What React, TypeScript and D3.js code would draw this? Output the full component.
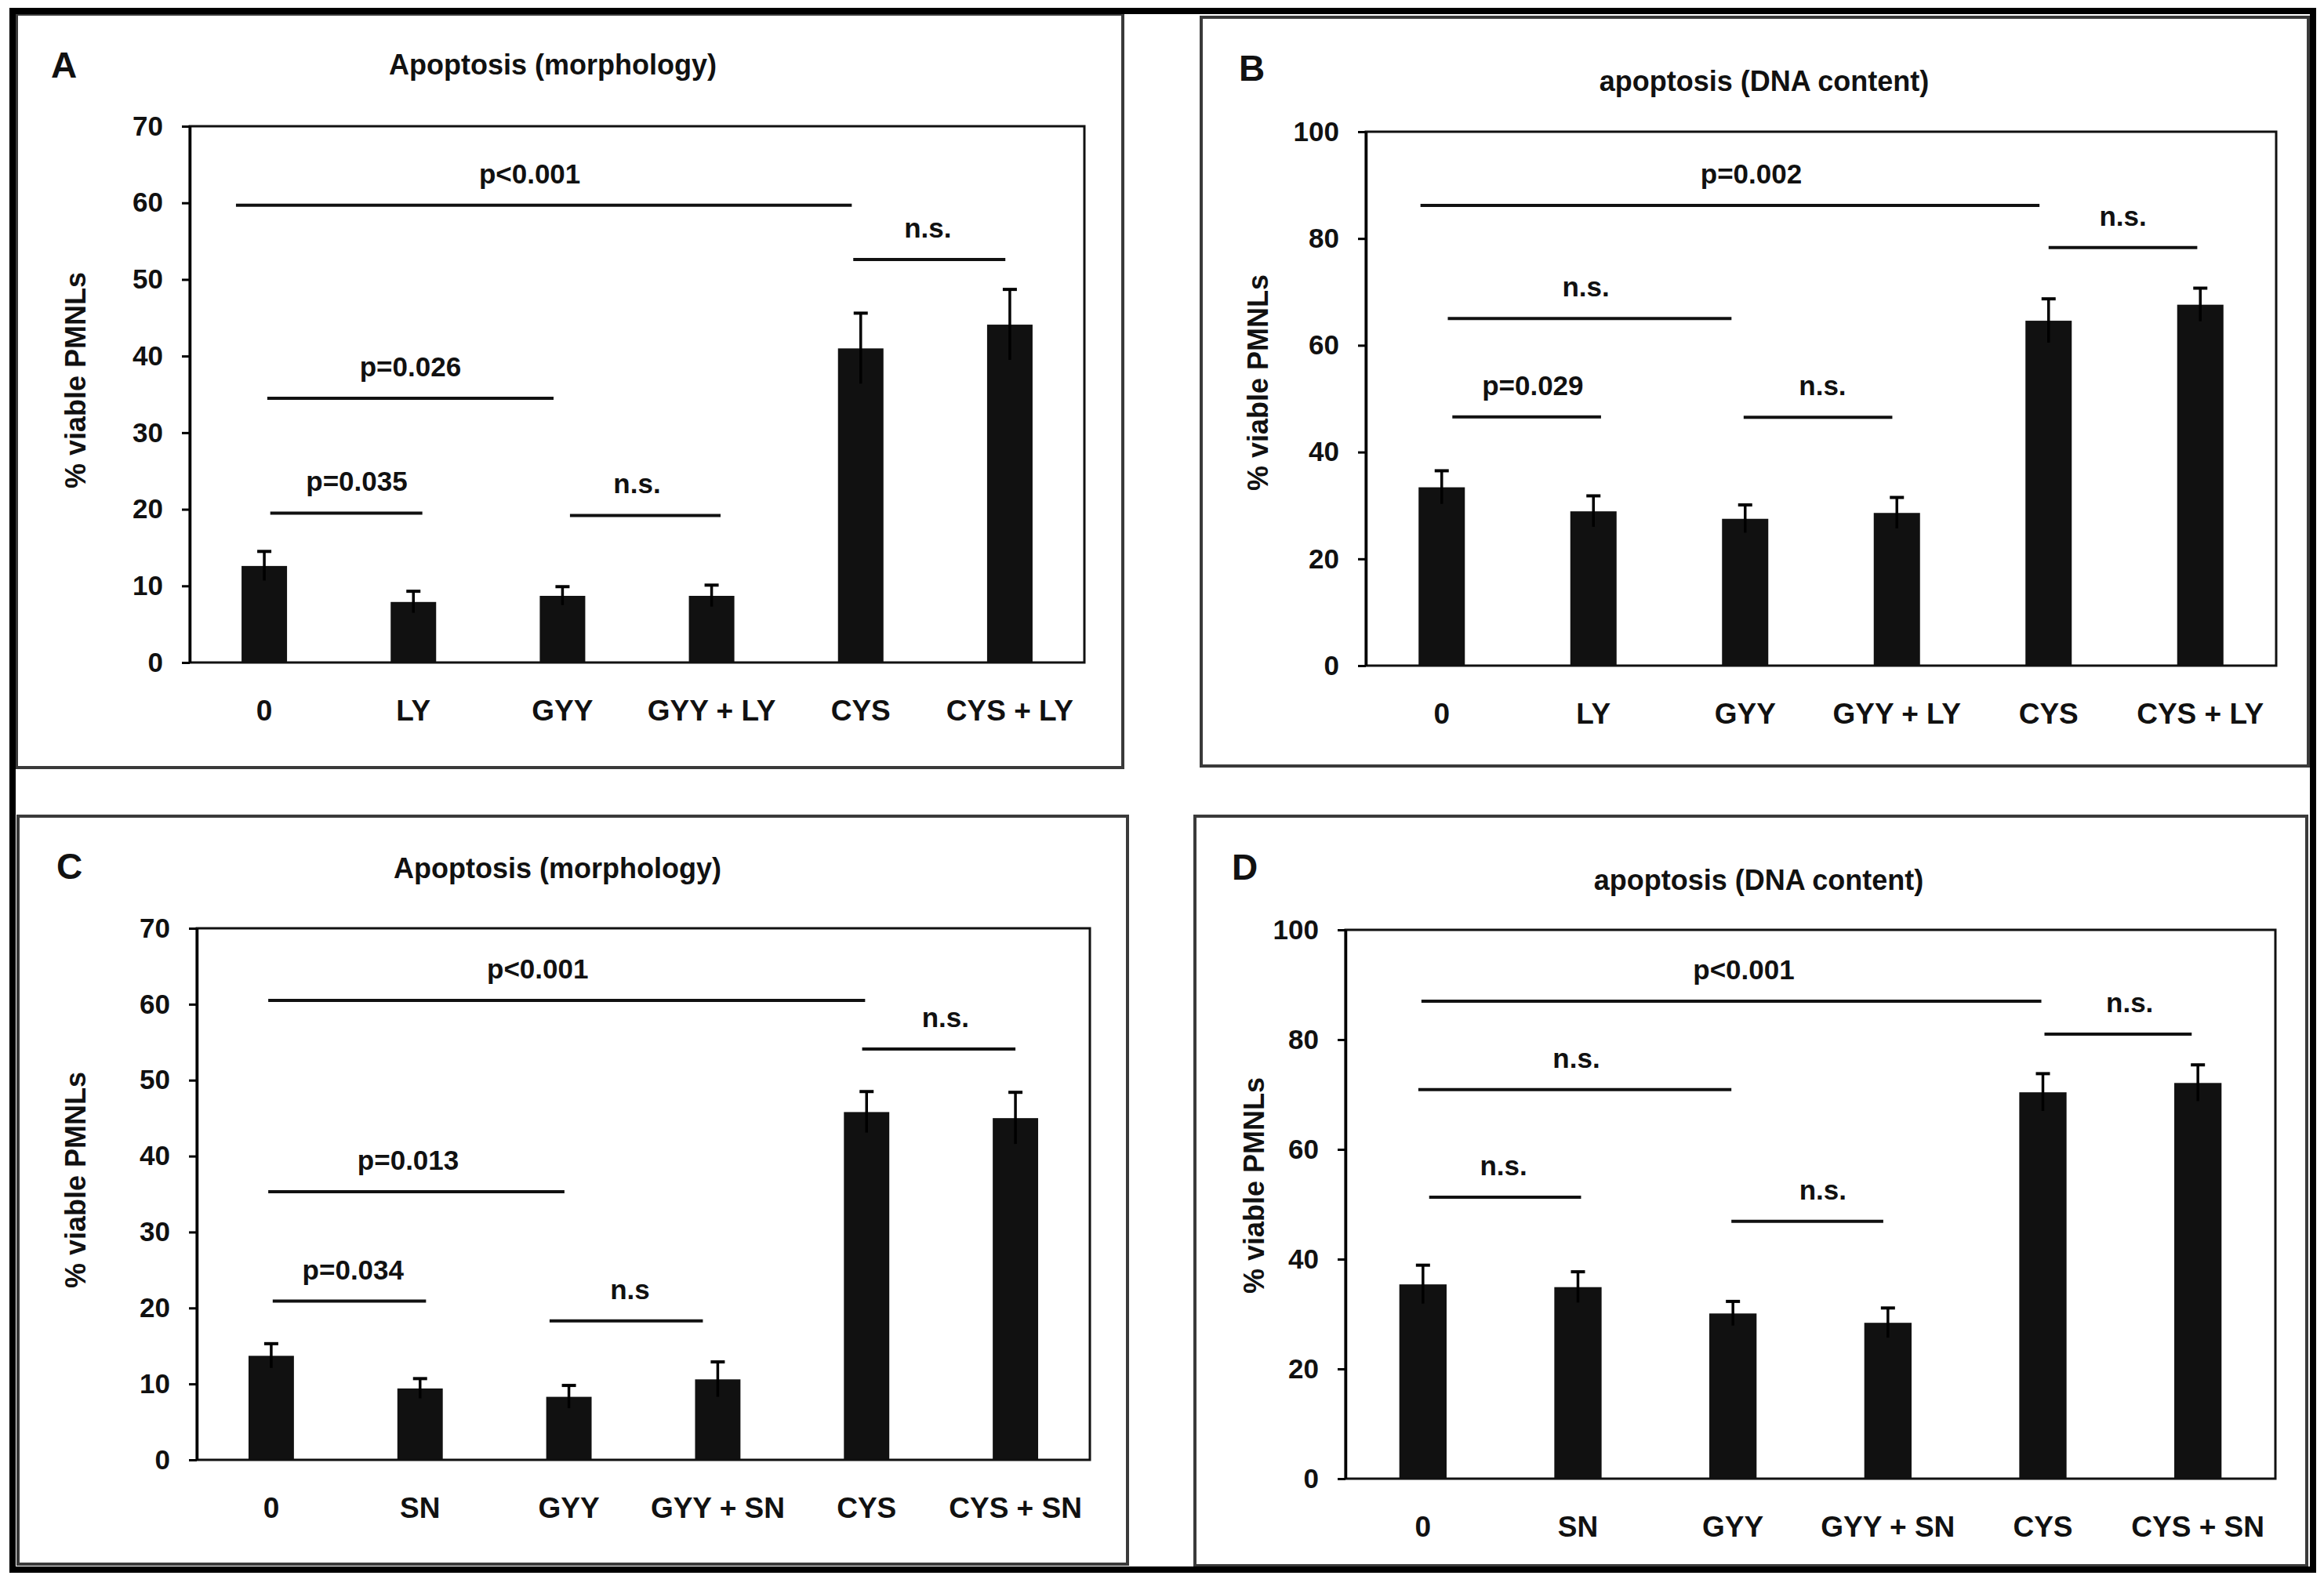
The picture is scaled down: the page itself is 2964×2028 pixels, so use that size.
import * as d3 from 'd3'
import { useRef, useEffect } from 'react'

const W = 2964
const H = 2028
const FONT = "'Liberation Sans', Arial, sans-serif"

// categories
const catsLY = ['0', 'LY', 'GYY', 'GYY + LY', 'CYS', 'CYS + LY']
const catsSN = ['0', 'SN', 'GYY', 'GYY + SN', 'CYS', 'CYS + SN']

// tick values
const ticks70 = [0, 10, 20, 30, 40, 50, 60, 70]
const ticks100 = [0, 20, 40, 60, 80, 100]

// means and error (SEM)
const meanA = [12.6, 7.9, 8.7, 8.7, 41.0, 44.1]
const errA = [1.9, 1.4, 1.2, 1.4, 4.6, 4.6]
const meanB = [33.4, 28.9, 27.5, 28.6, 64.6, 67.6]
const errB = [3.1, 2.9, 2.6, 2.9, 4.1, 3.1]
const meanC = [13.7, 9.4, 8.3, 10.6, 45.8, 45.0]
const errC = [1.6, 1.3, 1.5, 2.3, 2.7, 3.4]
const meanD = [35.4, 34.9, 30.1, 28.4, 70.4, 72.1]
const errD = [3.5, 2.8, 2.2, 2.7, 3.4, 3.3]

// significance bars: from / to in category index units, at = y value, lx = label position
const sigA = [
  { from: -0.19, to: 3.94, at: 59.7, label: 'p<0.001', lx: 1.78 },
  { from: 3.95, to: 4.97, at: 52.6, label: 'n.s.', lx: 4.45 },
  { from: 0.02, to: 1.94, at: 34.5, label: 'p=0.026', lx: 0.98 },
  { from: 0.04, to: 1.06, at: 19.5, label: 'p=0.035', lx: 0.62 },
  { from: 2.05, to: 3.06, at: 19.2, label: 'n.s.', lx: 2.5 },
]
const sigB = [
  { from: -0.14, to: 3.94, at: 86.2, label: 'p=0.002', lx: 2.04 },
  { from: 4.0, to: 4.98, at: 78.3, label: 'n.s.', lx: 4.49 },
  { from: 0.04, to: 1.91, at: 65.0, label: 'n.s.', lx: 0.95 },
  { from: 0.07, to: 1.05, at: 46.6, label: 'p=0.029', lx: 0.6 },
  { from: 1.99, to: 2.97, at: 46.5, label: 'n.s.', lx: 2.51 },
]
const sigC = [
  { from: -0.02, to: 3.99, at: 60.5, label: 'p<0.001', lx: 1.79 },
  { from: 3.97, to: 5.0, at: 54.1, label: 'n.s.', lx: 4.53 },
  { from: -0.02, to: 1.97, at: 35.3, label: 'p=0.013', lx: 0.92 },
  { from: 0.01, to: 1.04, at: 20.9, label: 'p=0.034', lx: 0.55 },
  { from: 1.87, to: 2.9, at: 18.3, label: 'n.s', lx: 2.41 },
]
const sigD = [
  { from: -0.01, to: 3.99, at: 87.0, label: 'p<0.001', lx: 2.07 },
  { from: 4.01, to: 4.96, at: 81.0, label: 'n.s.', lx: 4.56 },
  { from: -0.03, to: 1.99, at: 70.9, label: 'n.s.', lx: 0.99 },
  { from: 0.04, to: 1.02, at: 51.3, label: 'n.s.', lx: 0.52 },
  { from: 1.99, to: 2.97, at: 46.9, label: 'n.s.', lx: 2.58 },
]

interface Sig { from: number; to: number; at: number; label: string; lx: number }
interface PanelCfg {
  letter: string
  title: string
  cats: string[]
  means: number[]
  errs: number[]
  sigs: Sig[]
  yMax: number
  ticks: number[]
  box: number[]
  plot: number[]
  letterPos: number[]
  titlePos: number[]
  ylabPos: number[]
}

const panels: PanelCfg[] = [
  {
    letter: 'A', title: 'Apoptosis (morphology)', cats: catsLY, means: meanA, errs: errA, sigs: sigA,
    yMax: 70, ticks: ticks70,
    box: [21, 18, 1432, 979], plot: [242, 161, 1383, 845],
    letterPos: [65, 99], titlePos: [705, 95], ylabPos: [109, 485],
  },
  {
    letter: 'B', title: 'apoptosis (DNA content)', cats: catsLY, means: meanB, errs: errB, sigs: sigB,
    yMax: 100, ticks: ticks100,
    box: [1532, 22, 2944, 977], plot: [1742, 168, 2903, 849],
    letterPos: [1580, 103], titlePos: [2250, 116], ylabPos: [1617, 488],
  },
  {
    letter: 'C', title: 'Apoptosis (morphology)', cats: catsSN, means: meanC, errs: errC, sigs: sigC,
    yMax: 70, ticks: ticks70,
    box: [23, 1041, 1438, 1995], plot: [251, 1184, 1390, 1862],
    letterPos: [72, 1121], titlePos: [711, 1120], ylabPos: [109, 1505],
  },
  {
    letter: 'D', title: 'apoptosis (DNA content)', cats: catsSN, means: meanD, errs: errD, sigs: sigD,
    yMax: 100, ticks: ticks100,
    box: [1524, 1041, 2942, 1997], plot: [1716, 1186, 2902, 1886],
    letterPos: [1571, 1122], titlePos: [2243, 1135], ylabPos: [1612, 1512],
  },
]

function drawPanel(svg: any, p: PanelCfg) {
  const g = svg.append('g')
  const [l, t, r, b] = p.plot

  g.append('rect')
    .attr('x', p.box[0]).attr('y', p.box[1])
    .attr('width', p.box[2] - p.box[0]).attr('height', p.box[3] - p.box[1])
    .attr('fill', 'none').attr('stroke', '#3a3a3a').attr('stroke-width', 4)

  const x = d3.scaleBand().domain(p.cats).range([l, r]).paddingInner(0.695).paddingOuter(0.3475)
  const pos = d3.scaleLinear().domain([-0.5, p.cats.length - 0.5]).range([l, r])
  const y = d3.scaleLinear().domain([0, p.yMax]).range([b, t])
  const bw = x.bandwidth()

  // bars
  g.selectAll('rect.bar').data(p.means).enter().append('rect')
    .attr('class', 'bar')
    .attr('x', (d: number, i: number) => x(p.cats[i])!)
    .attr('y', (d: number) => y(d))
    .attr('width', bw)
    .attr('height', (d: number) => b - y(d))
    .attr('fill', '#111')

  // error bars
  const eb = g.selectAll('g.err').data(p.means).enter().append('g').attr('class', 'err')
  eb.append('line')
    .attr('x1', (d: number, i: number) => x(p.cats[i])! + bw / 2)
    .attr('x2', (d: number, i: number) => x(p.cats[i])! + bw / 2)
    .attr('y1', (d: number, i: number) => y(d - p.errs[i]))
    .attr('y2', (d: number, i: number) => y(d + p.errs[i]))
    .attr('stroke', '#000').attr('stroke-width', 3.5)
  eb.append('line')
    .attr('x1', (d: number, i: number) => x(p.cats[i])! + bw / 2 - 9)
    .attr('x2', (d: number, i: number) => x(p.cats[i])! + bw / 2 + 9)
    .attr('y1', (d: number, i: number) => y(d + p.errs[i]))
    .attr('y2', (d: number, i: number) => y(d + p.errs[i]))
    .attr('stroke', '#000').attr('stroke-width', 4)

  // plot frame
  g.append('rect')
    .attr('x', l).attr('y', t).attr('width', r - l).attr('height', b - t)
    .attr('fill', 'none').attr('stroke', '#111').attr('stroke-width', 3)

  // y axis
  const yAxis = d3.axisLeft(y).tickValues(p.ticks).tickSize(10).tickSizeOuter(0).tickPadding(24)
  const ya = g.append('g').attr('transform', `translate(${l},0)`).call(yAxis)
  ya.select('.domain').attr('stroke', '#000').attr('stroke-width', 3.5)
  ya.selectAll('.tick line').attr('stroke', '#000').attr('stroke-width', 3)
  ya.selectAll('.tick text')
    .attr('font-family', FONT).attr('font-size', 35).attr('font-weight', 'bold').attr('fill', '#111')

  // x labels
  g.selectAll('text.xl').data(p.cats).enter().append('text')
    .attr('class', 'xl')
    .attr('x', (d: string) => x(d)! + bw / 2)
    .attr('y', b + 74)
    .attr('text-anchor', 'middle')
    .attr('font-family', FONT).attr('font-size', 37).attr('font-weight', 'bold').attr('fill', '#111')
    .text((d: string) => d)

  // significance bars
  g.selectAll('line.sig').data(p.sigs).enter().append('line')
    .attr('class', 'sig')
    .attr('x1', (d: Sig) => pos(d.from)).attr('x2', (d: Sig) => pos(d.to))
    .attr('y1', (d: Sig) => y(d.at)).attr('y2', (d: Sig) => y(d.at))
    .attr('stroke', '#111').attr('stroke-width', 4)
  g.selectAll('text.sig').data(p.sigs).enter().append('text')
    .attr('class', 'sig')
    .attr('x', (d: Sig) => pos(d.lx))
    .attr('y', (d: Sig) => y(d.at) - 28)
    .attr('text-anchor', 'middle')
    .attr('font-family', FONT).attr('font-size', 35).attr('font-weight', 'bold').attr('fill', '#111')
    .text((d: Sig) => d.label)

  // letter, title, y label
  g.append('text')
    .attr('x', p.letterPos[0]).attr('y', p.letterPos[1])
    .attr('font-family', FONT).attr('font-size', 46).attr('font-weight', 'bold').attr('fill', '#111')
    .text(p.letter)
  g.append('text')
    .attr('x', p.titlePos[0]).attr('y', p.titlePos[1])
    .attr('text-anchor', 'middle')
    .attr('font-family', FONT).attr('font-size', 36).attr('font-weight', 'bold').attr('fill', '#111')
    .text(p.title)
  g.append('text')
    .attr('transform', `translate(${p.ylabPos[0]},${p.ylabPos[1]}) rotate(-90)`)
    .attr('text-anchor', 'middle')
    .attr('font-family', FONT).attr('font-size', 36).attr('font-weight', 'bold').attr('fill', '#111')
    .text('% viable PMNLs')
}

export default function App() {
  const svgRef = useRef(null)

  useEffect((): void => {
    const SVG = d3.select(svgRef.current)
    SVG.selectAll('*').remove()
    SVG.attr('width', W).attr('height', H)

    SVG.append('rect').attr('width', W).attr('height', H).attr('fill', '#fff')

    panels.forEach(p => drawPanel(SVG, p))

    // outer frame
    SVG.append('rect')
      .attr('x', 16).attr('y', 14).attr('width', 2934).attr('height', 1988)
      .attr('fill', 'none').attr('stroke', '#000').attr('stroke-width', 8)
  }, [])

  return <svg ref={svgRef} style={{ position: 'absolute', left: 0, top: 0, display: 'block' }}></svg>
}
